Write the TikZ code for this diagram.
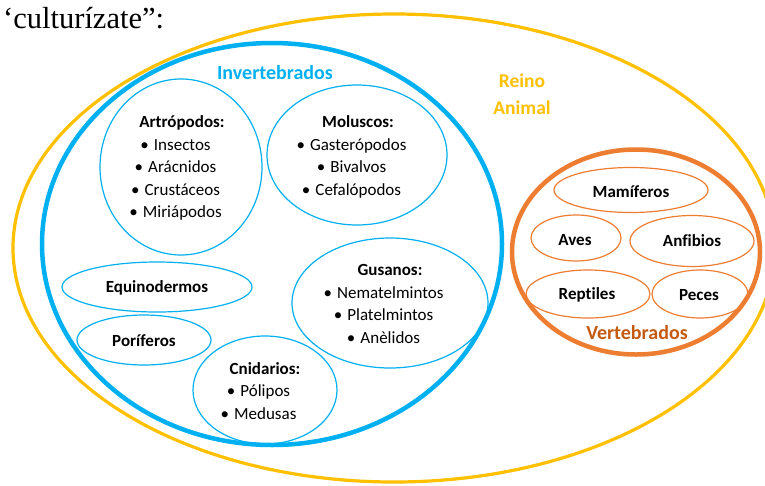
\documentclass[tikz,border=0pt]{standalone}
\usepackage{fontspec}
\setmainfont[RawFeature={-liga}]{Carlito}
\newfontfamily\titlefont{Liberation Serif}
\usetikzlibrary{shapes.geometric}
\definecolor{yel}{HTML}{FFC000}
\definecolor{blu}{HTML}{00B0F0}
\definecolor{ora}{HTML}{ED7D31}
\definecolor{orad}{HTML}{C55A11}
\newcommand{\bl}[1]{•\hspace{0.3em}#1\kern 13pt}
\tikzset{
  ell/.style={ellipse, inner sep=0pt, draw},
  bigyel/.style={ell, draw=yel, line width=3.2pt},
  bigblu/.style={ell, draw=blu, line width=4.5pt},
  bigora/.style={ell, draw=ora, line width=4.5pt},
  smallblu/.style={ell, draw=blu, line width=1.2pt},
  smallora/.style={ell, draw=ora, line width=1.2pt},
  txt/.style={inner sep=0pt, align=center, text=black, font=\fontsize{17}{22.5}\selectfont},
  lbl/.style={inner sep=0pt, align=center, font=\bfseries\fontsize{20}{26}\selectfont},
}
\begin{document}
\begin{tikzpicture}[x=1pt,y=-1pt]
\clip (0,0) rectangle (765,485);
\fill[white] (0,0) rectangle (765,485);
% title
\node[anchor=base west, inner sep=0pt, font=\titlefont\fontsize{30.5}{33}\selectfont] (title) at (3,28) {‘culturízate”:};
% big ellipses
\node[bigyel, minimum width=762pt, minimum height=468pt] (reino) at (394,248) {};
\node[bigblu, minimum width=460pt, minimum height=402pt] (inv) at (272,244) {};
\node[bigora, minimum width=248pt, minimum height=205pt] (vert) at (636,252) {};
% labels
\node[lbl, text=blu] (invlbl) at (275,73) {Invertebrados};
\node[lbl, text=yel, font=\bfseries\fontsize{19.5}{26.5}\selectfont] (reinolbl) at (522,94) {Reino\\Animal};
\node[lbl, text=orad] (vertlbl) at (637,333) {Vertebrados};
% invertebrate groups
\node[smallblu, minimum width=162pt, minimum height=176pt] (artro) at (181,167) {};
\node[txt] (artrot) at (182,168) {\textbf{Artrópodos:}\\\bl{Insectos}\\\bl{Arácnidos}\\\bl{Crustáceos}\\\bl{Miriápodos}};
\node[smallblu, minimum width=180pt, minimum height=140pt] (molu) at (357,155) {};
\node[txt] (molut) at (358,157) {\textbf{Moluscos:}\\\bl{Gasterópodos}\\\bl{Bivalvos}\\\bl{Cefalópodos}};
\node[smallblu, minimum width=196pt, minimum height=130pt] (gusa) at (390,303) {};
\node[txt] (gusat) at (390,304) {\textbf{Gusanos:}\\\bl{Nematelmintos}\\\bl{Platelmintos}\\\bl{Anèlidos}};
\node[smallblu, minimum width=190pt, minimum height=50pt] (equi) at (157,287) {};
\node[txt, font=\bfseries\fontsize{17}{22}\selectfont] (equit) at (157,288) {Equinodermos};
\node[smallblu, minimum width=134pt, minimum height=50pt] (pori) at (144,340) {};
\node[txt, font=\bfseries\fontsize{17}{22}\selectfont] (porit) at (144,341) {Poríferos};
\node[smallblu, minimum width=144pt, minimum height=108pt] (cnid) at (265,390) {};
\node[txt] (cnidt) at (265,391) {\textbf{Cnidarios:}\\\bl{Pólipos}\\\bl{Medusas}};
% vertebrate groups
\node[smallora, minimum width=154pt, minimum height=45pt] (mami) at (631,190) {};
\node[txt, font=\bfseries\fontsize{17}{22}\selectfont] (mamit) at (631,192) {Mamíferos};
\node[smallora, minimum width=90pt, minimum height=46pt] (aves) at (576,238) {};
\node[txt, font=\bfseries\fontsize{17}{22}\selectfont] (avest) at (575,240) {Aves};
\node[smallora, minimum width=124pt, minimum height=51pt] (anfi) at (692,241) {};
\node[txt, font=\bfseries\fontsize{17}{22}\selectfont] (anfit) at (692,241) {Anfibios};
\node[smallora, minimum width=124pt, minimum height=48pt] (rept) at (588,294) {};
\node[txt, font=\bfseries\fontsize{17}{22}\selectfont] (reptt) at (587,295) {Reptiles};
\node[smallora, minimum width=96pt, minimum height=48pt] (pece) at (700,294) {};
\node[txt, font=\bfseries\fontsize{17}{22}\selectfont] (pecet) at (699,295) {Peces};
\end{tikzpicture}
\end{document}
